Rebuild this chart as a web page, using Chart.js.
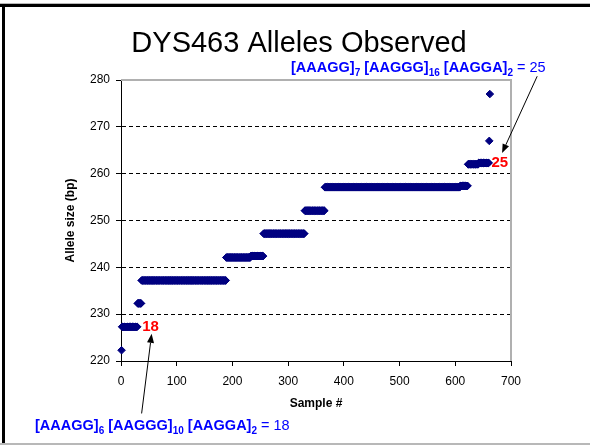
<!DOCTYPE html>
<html>
<head>
<meta charset="utf-8">
<script src="https://cdn.jsdelivr.net/npm/chart.js@4.4.1/dist/chart.umd.min.js"></script>
<style>
  html, body { margin: 0; padding: 0; background: #fff; }
  #wrap { width: 590px; height: 445px; position: relative; }
</style>
</head>
<body>
<div id="wrap"><canvas id="chart" width="590" height="445"></canvas></div>
<script>
// allele size (bp) of each run of sorted samples, and how many samples in each run
const alleleSizes  = [222.3, 227.3, 232.3, 237.2, 242.1, 242.4, 247.2, 252.1, 257.1, 257.4, 262.0, 262.3, 267.0, 277.0];
const sampleCounts = [1, 28, 7, 152, 44, 23, 74, 36, 243, 14, 19, 19, 1, 1];

const xTicks = [0, 100, 200, 300, 400, 500, 600, 700];
const yTicks = [220, 230, 240, 250, 260, 270, 280];

// callouts: [sample #, bp] anchors
const calloutLabels = [
  { text: '18', at: [53, 227.2] },
  { text: '25', at: [680, 262.3] }
];
const calloutArrows = [
  { from: [37, 208.8], to: [55, 225.8] },
  { from: [747, 280.8], to: [684, 264.4] }
];
const formulaBottom = [['[AAAGG]', 'b'], ['6', 's'], [' [AAGGG]', 'b'], ['10', 's'], [' [AAGGA]', 'b'], ['2', 's'], [' = 18', 'n']];
const formulaTop    = [['[AAAGG]', 'b'], ['7', 's'], [' [AAGGG]', 'b'], ['16', 's'], [' [AAGGA]', 'b'], ['2', 's'], [' = 25', 'n']];

const FONT = '"Liberation Sans", Arial, sans-serif';
const navy = '#000080';

const points = [];
let n = 1;
alleleSizes.forEach((bp, i) => {
  for (let k = 0; k < sampleCounts[i]; k++) points.push({ x: n++, y: bp });
});

function drawRich(ctx, parts, x, y) {
  let cx = x;
  parts.forEach(([t, kind]) => {
    if (kind === 's') ctx.font = 'bold 10px ' + FONT;
    else if (kind === 'n') ctx.font = '14.5px ' + FONT;
    else ctx.font = 'bold 14.5px ' + FONT;
    ctx.fillText(t, cx, kind === 's' ? y + 4 : y);
    cx += ctx.measureText(t).width;
  });
}

function arrow(ctx, x1, y1, x2, y2) {
  const a = Math.atan2(y2 - y1, x2 - x1);
  const len = 9, half = 3.5;
  ctx.beginPath();
  ctx.moveTo(x1, y1);
  ctx.lineTo(x2 - Math.cos(a) * len, y2 - Math.sin(a) * len);
  ctx.stroke();
  ctx.beginPath();
  ctx.moveTo(x2, y2);
  ctx.lineTo(x2 - Math.cos(a) * len - Math.sin(a) * half, y2 - Math.sin(a) * len + Math.cos(a) * half);
  ctx.lineTo(x2 - Math.cos(a) * len + Math.sin(a) * half, y2 - Math.sin(a) * len - Math.cos(a) * half);
  ctx.closePath();
  ctx.fill();
}

const decorations = {
  id: 'decorations',
  beforeDraw(chart) {
    const ctx = chart.ctx;
    ctx.save();
    ctx.fillStyle = '#fff';
    ctx.fillRect(0, 0, chart.width, chart.height);
    ctx.restore();
  },
  afterDraw(chart) {
    const { ctx, chartArea: ca, scales: { x, y } } = chart;
    ctx.save();
    // plot area border (top, right)
    ctx.strokeStyle = '#b0b0b0';
    ctx.lineWidth = 2;
    ctx.beginPath();
    ctx.moveTo(ca.left, ca.top);
    ctx.lineTo(ca.right, ca.top);
    ctx.lineTo(ca.right, ca.bottom);
    ctx.stroke();

    // slide frame
    ctx.fillStyle = '#000';
    ctx.fillRect(0, 4, chart.width, 3);
    ctx.fillRect(2, 4, 3, chart.height - 6);
    ctx.fillStyle = '#b8b8b8';
    ctx.fillRect(0, 3, chart.width, 1);
    ctx.fillRect(0, chart.height - 2, chart.width, 2);

    // title
    ctx.fillStyle = '#000';
    ctx.font = '29px ' + FONT;
    ctx.textAlign = 'center';
    ctx.textBaseline = 'alphabetic';
    ctx.fillText('DYS463 Alleles Observed', 299, 52);

    // red callout numbers
    ctx.fillStyle = '#ff0000';
    ctx.font = 'bold 15px ' + FONT;
    ctx.textBaseline = 'middle';
    calloutLabels.forEach(l => {
      ctx.fillText(l.text, x.getPixelForValue(l.at[0]), y.getPixelForValue(l.at[1]));
    });

    // arrows
    ctx.strokeStyle = '#000';
    ctx.fillStyle = '#000';
    ctx.lineWidth = 1;
    calloutArrows.forEach(a => {
      arrow(ctx, x.getPixelForValue(a.from[0]), y.getPixelForValue(a.from[1]),
                 x.getPixelForValue(a.to[0]), y.getPixelForValue(a.to[1]));
    });

    // repeat formulas
    ctx.fillStyle = '#0000ff';
    ctx.textAlign = 'left';
    ctx.textBaseline = 'alphabetic';
    drawRich(ctx, formulaBottom, 35, 430);
    drawRich(ctx, formulaTop, 291, 72);
    ctx.restore();
  }
};

Chart.defaults.font.family = FONT;
Chart.defaults.color = '#000';

new Chart(document.getElementById('chart'), {
  type: 'scatter',
  data: {
    datasets: [{
      data: points,
      pointStyle: 'rectRot',
      pointRadius: 3.8,
      pointBorderWidth: 1,
      backgroundColor: navy,
      borderColor: navy,
      clip: false
    }]
  },
  options: {
    responsive: false,
    animation: false,
    events: [],
    layout: { padding: { top: 80, right: 79, left: 0, bottom: 0 } },
    plugins: { legend: { display: false }, tooltip: { enabled: false } },
    scales: {
      x: {
        type: 'linear',
        min: 0, max: 700,
        afterBuildTicks: s => { s.ticks = xTicks.map(v => ({ value: v })); },
        afterFit: s => { s.height = 84; },
        ticks: { font: { size: 12 }, padding: 8, color: '#000' },
        grid: { drawOnChartArea: false, drawTicks: true, tickLength: 5, tickColor: '#000' },
        border: { display: true, color: '#000', width: 1 },
        title: { display: true, text: 'Sample #', font: { size: 12, weight: 'bold' }, padding: { top: 0, bottom: 34 } }
      },
      y: {
        type: 'linear',
        min: 220, max: 280,
        afterBuildTicks: s => { s.ticks = yTicks.map(v => ({ value: v })); },
        afterFit: s => { s.width = 121; },
        ticks: { font: { size: 12 }, padding: 6, color: '#000' },
        grid: {
          color: c => (c.tick && (c.tick.value === 220 || c.tick.value === 280)) ? 'rgba(0,0,0,0)' : '#000',
          lineWidth: 1,
          tickLength: 5,
          tickColor: '#000'
        },
        border: { display: true, color: '#000', width: 1, dash: [4, 3] },
        title: { display: true, text: 'Allele size (bp)', font: { size: 12, weight: 'bold' }, padding: { top: 63, bottom: 0 } }
      }
    }
  },
  plugins: [decorations]
});
</script>
</body>
</html>
